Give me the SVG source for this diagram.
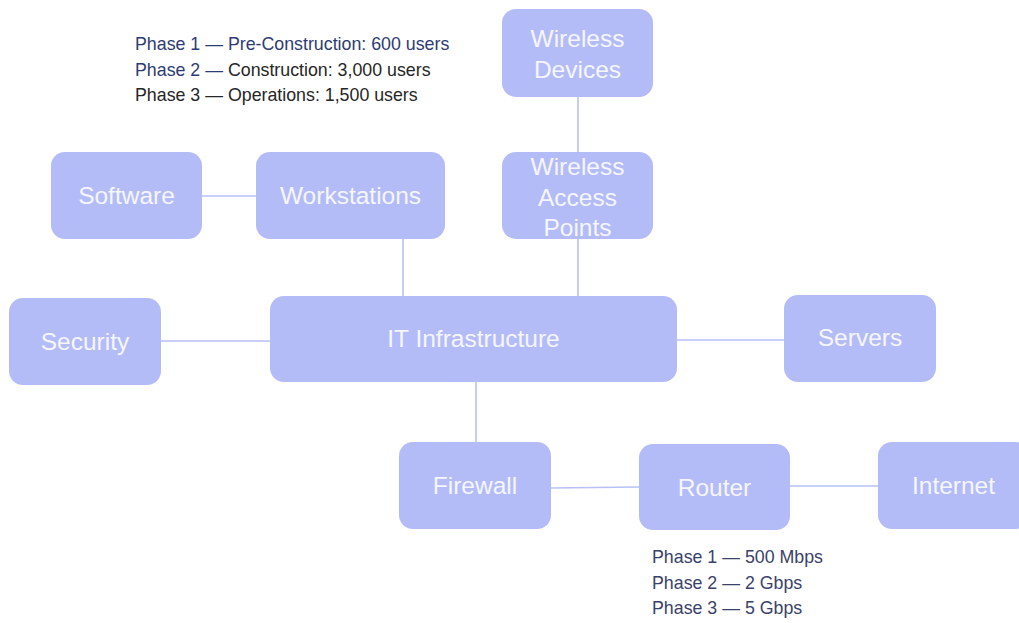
<svg xmlns="http://www.w3.org/2000/svg" width="1019" height="623" viewBox="0 0 1019 623">
<style>
.node rect{fill:#b4bcf8;}
.node text{font-family:"Liberation Sans",Arial,sans-serif;font-size:24.5px;fill:#f5f6ff;text-anchor:middle;}
.conn line{stroke:#b9c0f5;stroke-width:1.6;}
.note{font-family:"Liberation Sans",Arial,sans-serif;font-size:17.8px;}
.navy{fill:#2e3c72;}
.dark{fill:#262626;}
.slate{fill:#3a4269;}
</style>
<rect width="1019" height="623" fill="#ffffff"/>
<g id="connectors" class="conn">
<line x1="578" y1="97" x2="578" y2="152"/>
<line x1="578" y1="239" x2="578" y2="296"/>
<line x1="202" y1="196" x2="256" y2="196"/>
<line x1="403" y1="239" x2="403" y2="296"/>
<line x1="161" y1="341" x2="270" y2="341"/>
<line x1="677" y1="340" x2="784" y2="340"/>
<line x1="476" y1="382" x2="476" y2="442"/>
<line x1="551" y1="488" x2="639" y2="487"/>
<line x1="790" y1="486" x2="878" y2="486"/>
</g>
<g id="wireless-devices" class="node"><rect x="502" y="9" width="151" height="88" rx="14"/><text x="577.5" y="47">Wireless</text><text x="577.5" y="78">Devices</text></g>
<g id="wireless-access-points" class="node"><rect x="502" y="152" width="151" height="87" rx="14"/><text x="577.5" y="175">Wireless</text><text x="577.5" y="206">Access</text><text x="577.5" y="236">Points</text></g>
<g id="software" class="node"><rect x="51" y="152" width="151" height="87" rx="14"/><text x="126.5" y="204">Software</text></g>
<g id="workstations" class="node"><rect x="256" y="152" width="189" height="87" rx="14"/><text x="350.5" y="204">Workstations</text></g>
<g id="security" class="node"><rect x="9" y="298" width="152" height="87" rx="14"/><text x="85" y="350">Security</text></g>
<g id="it-infrastructure" class="node"><rect x="270" y="296" width="407" height="86" rx="14"/><text x="473.5" y="347">IT Infrastructure</text></g>
<g id="servers" class="node"><rect x="784" y="295" width="152" height="87" rx="14"/><text x="860" y="346">Servers</text></g>
<g id="firewall" class="node"><rect x="399" y="442" width="152" height="87" rx="14"/><text x="475" y="494">Firewall</text></g>
<g id="router" class="node"><rect x="639" y="444" width="151" height="86" rx="14"/><text x="714.5" y="496">Router</text></g>
<g id="internet" class="node"><rect x="878" y="442" width="151" height="87" rx="14"/><text x="953.5" y="494">Internet</text></g>
<g id="user-phases" class="note">
<text x="135" y="50" class="navy">Phase 1 — Pre-Construction: 600 users</text>
<text x="135" y="76"><tspan class="navy">Phase 2 — </tspan><tspan class="dark">Construction: 3,000 users</tspan></text>
<text x="135" y="101" class="dark">Phase 3 — Operations: 1,500 users</text>
</g>
<g id="bandwidth-phases" class="note slate">
<text x="652" y="563">Phase 1 — 500 Mbps</text>
<text x="652" y="589">Phase 2 — 2 Gbps</text>
<text x="652" y="614">Phase 3 — 5 Gbps</text>
</g>
</svg>
